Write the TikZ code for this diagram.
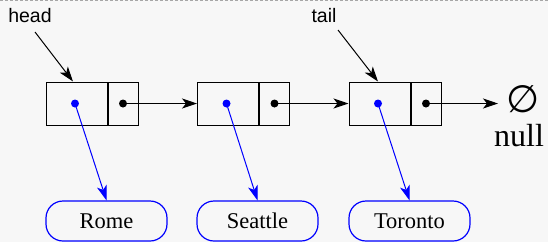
\documentclass[tikz,border=0pt]{standalone}
\usepackage{fontspec}
\setmainfont{Liberation Serif}
\newfontfamily\labelfont{Liberation Sans}
\newfontfamily\symfont{DejaVu Sans}
\usetikzlibrary{arrows.meta}
\definecolor{bg}{HTML}{F7F7F7}
\definecolor{linkblue}{HTML}{0000FF}
\begin{document}
\begin{tikzpicture}[x=1pt,y=-1pt,
  cell/.style={draw, line width=1pt, minimum height=43pt, inner sep=0pt},
  datacell/.style={cell, minimum width=61pt},
  nextcell/.style={cell, minimum width=30pt},
  dot/.style={circle, fill, inner sep=0pt, minimum size=8pt},
  link/.style={line width=1pt, -{Stealth[length=15pt,width=10pt,inset=4pt]}},
  reflink/.style={link, linkblue},
  city/.style={draw=linkblue, line width=1.2pt, rounded corners=17pt,
    minimum width=121pt, minimum height=40pt, inner sep=0pt,
    font=\fontsize{22.5}{26}\selectfont},
  ptr/.style={font=\labelfont\fontsize{19.5}{22}\selectfont, inner sep=0pt}
]
% canvas and top rule
\fill[bg] (0,0) rectangle (548,242);
\useasboundingbox (0,0) rectangle (548,242);
\draw[gray!70, line width=0.8pt, dash pattern=on 3pt off 2pt] (0,0.5) -- (548,0.5);

% list nodes: data cell + next cell
\foreach \i/\x in {1/76.5, 2/228, 3/379.5} {
  \node[datacell] (d\i) at (\x,103.5) {};
  \node[nextcell, anchor=west] (p\i) at (d\i.east) {};
  \node[dot, linkblue] (b\i) at ([xshift=-1.5pt]d\i.center) {};
  \node[dot] (k\i) at (p\i.center) {};
}

% referenced values
\node[city] (c1) at (106.5,221) {Rome};
\node[city] (c2) at (257.5,221) {Seattle};
\node[city] (c3) at (409.5,221) {Toronto};

% null terminator
\node[font=\symfont\fontsize{38}{38}\selectfont, inner sep=0pt] (nil) at (523,99.5) {∅};
\node[font=\fontsize{32}{34}\selectfont, inner sep=0pt, anchor=base] (nulltext) at (519,146) {null};
\coordinate (nilin) at (498,103.5);

% head / tail pointers
\node[ptr, anchor=base] (head) at (30,22) {head};
\node[ptr, anchor=base] (tail) at (324,22) {tail};
\coordinate (hs) at (35,32);
\coordinate (ts) at (338,30);
\draw[link] (hs) -- ([xshift=-3.5pt]d1.north);
\draw[link] (ts) -- ([xshift=-1.5pt]d3.north);

% next links
\draw[link] (k1.center) -- (d2.west);
\draw[link] (k2.center) -- (d3.west);
\draw[link] (k3.center) -- (nilin);

% value links
\foreach \i in {1,2,3}
  \draw[reflink] (b\i.center) -- (c\i.north);
\end{tikzpicture}
\end{document}
